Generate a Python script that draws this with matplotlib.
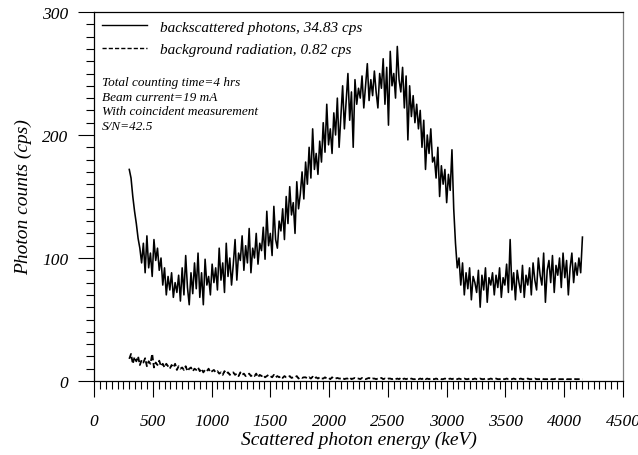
import numpy as np
import matplotlib
matplotlib.use("Agg")
import matplotlib.pyplot as plt
from matplotlib.ticker import MultipleLocator

plt.rcParams['font.family'] = ['Liberation Serif', 'DejaVu Serif']
plt.rcParams['font.style'] = 'italic'

# channel energies (keV), 15 keV steps
energy = np.arange(300, 4160, 15)

# backscattered photons (cps)
backscat = [
    172, 165, 150, 138, 128, 116, 108,
    96, 112, 88, 118, 92, 104, 85, 115, 98, 108, 90,
    100, 78, 92, 70, 85, 74, 88, 68, 80,
    72, 86, 65, 92, 70, 102, 76, 62, 88, 71, 96,
    75, 104, 68, 88, 62, 99, 78, 85, 70, 95, 80,
    92, 74, 108, 82, 96, 72, 112, 85, 100, 78, 95, 115, 82, 104,
    98, 118, 90, 110, 96, 124, 88, 108, 100, 120, 95, 112,
    106, 125, 99, 138, 110, 120, 102, 142, 115, 108, 130,
    122, 140, 115, 150, 128, 158, 135, 145, 120, 162, 140,
    152, 170, 148, 178, 160, 190, 165, 205, 172, 185, 168,
    195, 178, 210, 186, 225, 192, 205, 185, 218, 200, 230, 190,
    215, 240, 205, 228, 250, 212, 235, 190, 245, 225, 238,
    230, 248, 222, 240, 258, 228, 245, 232, 252, 235, 222, 250,
    238, 262, 225, 255, 208, 268, 240, 250, 230, 272, 245,
    235, 255, 222, 248, 196, 240, 215, 232, 210, 225,
    205, 220, 190, 212, 172, 200, 185, 205, 178,
    182, 165, 190, 150, 175, 160, 172, 145, 168, 155, 188,
    140, 112, 92,
    100, 78, 96, 70, 88, 75, 92, 66, 85, 80,
    72, 90, 60, 86, 74, 92, 64, 84, 78, 88,
    70, 86, 76, 92, 68, 84, 78, 95, 72, 115,
    74, 88, 66, 90, 80, 72, 94, 68, 86, 78,
    92, 70, 96, 82, 74, 100, 86, 78, 104, 64,
    90, 98, 80, 102, 72, 94, 86, 100, 76, 104,
    84, 98, 70, 92, 104, 80, 96, 86, 100, 88, 117,
]

# background radiation (cps)
background = [
    18, 22, 14, 19.5, 16, 20, 13, 17, 15, 18.5,
    12, 16, 14, 22, 11, 15, 13, 16.5, 12, 14,
    11, 14, 12, 10, 13, 11, 14, 9, 12, 10,
    11, 9, 12, 8, 10, 11, 8, 10, 9, 11,
    8, 10, 7, 9, 8, 10, 7, 8, 9, 7,
    8, 6, 7, 5, 8, 6, 7, 5, 6, 7,
    5, 6, 4, 7, 5, 6, 4, 5, 6, 4,
    5, 4, 6, 3, 5, 4, 5, 3, 4, 5,
    4, 3, 5, 3, 4, 3, 4, 2.5, 4, 3,
    3, 4, 2.5, 3, 3, 4, 2, 3, 2.5, 3,
    3, 2, 3, 2, 3.5, 2, 3, 2, 3, 2,
    2, 3, 2, 2.5, 1.5, 3, 2, 2, 2.5, 2,
    2, 2.5, 1.5, 2, 2, 3, 1.5, 2, 2.5, 2,
    2, 1.5, 2.5, 2, 1.5, 2, 2.5, 1.5, 2, 2,
    1.5, 2, 2, 2.5, 1.5, 2, 1.5, 2, 2, 1.5,
    2, 1.5, 2, 1.5, 2.5, 1.5, 2, 1.5, 2, 1.5,
    2, 1.5, 1.5, 2, 1.5, 2, 1.5, 2.5, 1.5, 2,
    1.5, 2, 1.5, 1.5, 2, 1.5, 2, 1.5, 1.5, 2,
    1.5, 1.5, 2, 1.5, 2, 1.5, 1.5, 2, 1.5, 1.5,
    2, 1.5, 1.5, 2, 1.5, 1.5, 2, 1.5, 1.5, 2,
    1.5, 1.5, 2, 1.5, 1.5, 2, 1.5, 1.5, 2, 1.5,
    1.5, 2, 1.5, 1.5, 2, 1.5, 1.5, 1.5, 2, 1.5,
    1.5, 1.5, 2, 1.5, 1.5, 1.5, 2, 1.5, 1.5, 1.5,
    2, 1.5, 1.5, 1.5, 2, 1.5, 1.5, 1.5, 2, 1.5,
    1.5, 1.5, 2, 1.5, 1.5, 1.5, 1.5, 2, 1.5, 1.5,
    1.5, 1.5, 2, 1.5, 1.5, 1.5, 1.5, 1.5,
]

fig = plt.figure(figsize=(6.38, 4.56), dpi=100)
ax = fig.add_axes([94/638, 74/456, 529/638, 369/456])

ax.plot(energy, backscat, color='black', lw=1.15, label='backscattered photons, 34.83 cps')
ax.plot(energy, background, color='black', lw=1.3, ls=(0, (3, 1.5)),
        label='background radiation, 0.82 cps')

ax.set_xlim(0, 4500)
ax.set_ylim(0, 300)
ax.xaxis.set_major_locator(MultipleLocator(500))
ax.xaxis.set_minor_locator(MultipleLocator(50))
ax.yaxis.set_major_locator(MultipleLocator(100))
ax.yaxis.set_minor_locator(MultipleLocator(10))
ax.tick_params(which='major', direction='out', length=11.5, width=0.8, labelsize=12.5)
ax.tick_params(which='minor', direction='out', length=5.5, width=0.8)
ax.tick_params(axis='x', which='major', pad=11.5)
ax.tick_params(axis='y', which='major', pad=7)
ax.spines['right'].set_color('0.5')
for s in ['left', 'bottom', 'top', 'right']:
    ax.spines[s].set_linewidth(0.9)

ax.set_xlabel('Scattered photon energy (keV)', fontsize=14, labelpad=1)
ax.set_ylabel('Photon counts (cps)', fontsize=14, labelpad=7)

leg = ax.legend(loc='upper left', bbox_to_anchor=(0.015, 0.978), frameon=False,
                fontsize=11, handlelength=2.95, handletextpad=0.85, labelspacing=0.55,
                borderpad=0, borderaxespad=0)
for h in leg.get_lines():
    h.set_linewidth(1.0)

ax.text(0.015, 0.826, 'Total counting time=4 hrs\nBeam current=19 mA\n'
        'With coincident measurement\nS/N=42.5',
        transform=ax.transAxes, fontsize=9.5, va='top', ha='left', linespacing=1.28)

fig.savefig('out.png', dpi=100)
